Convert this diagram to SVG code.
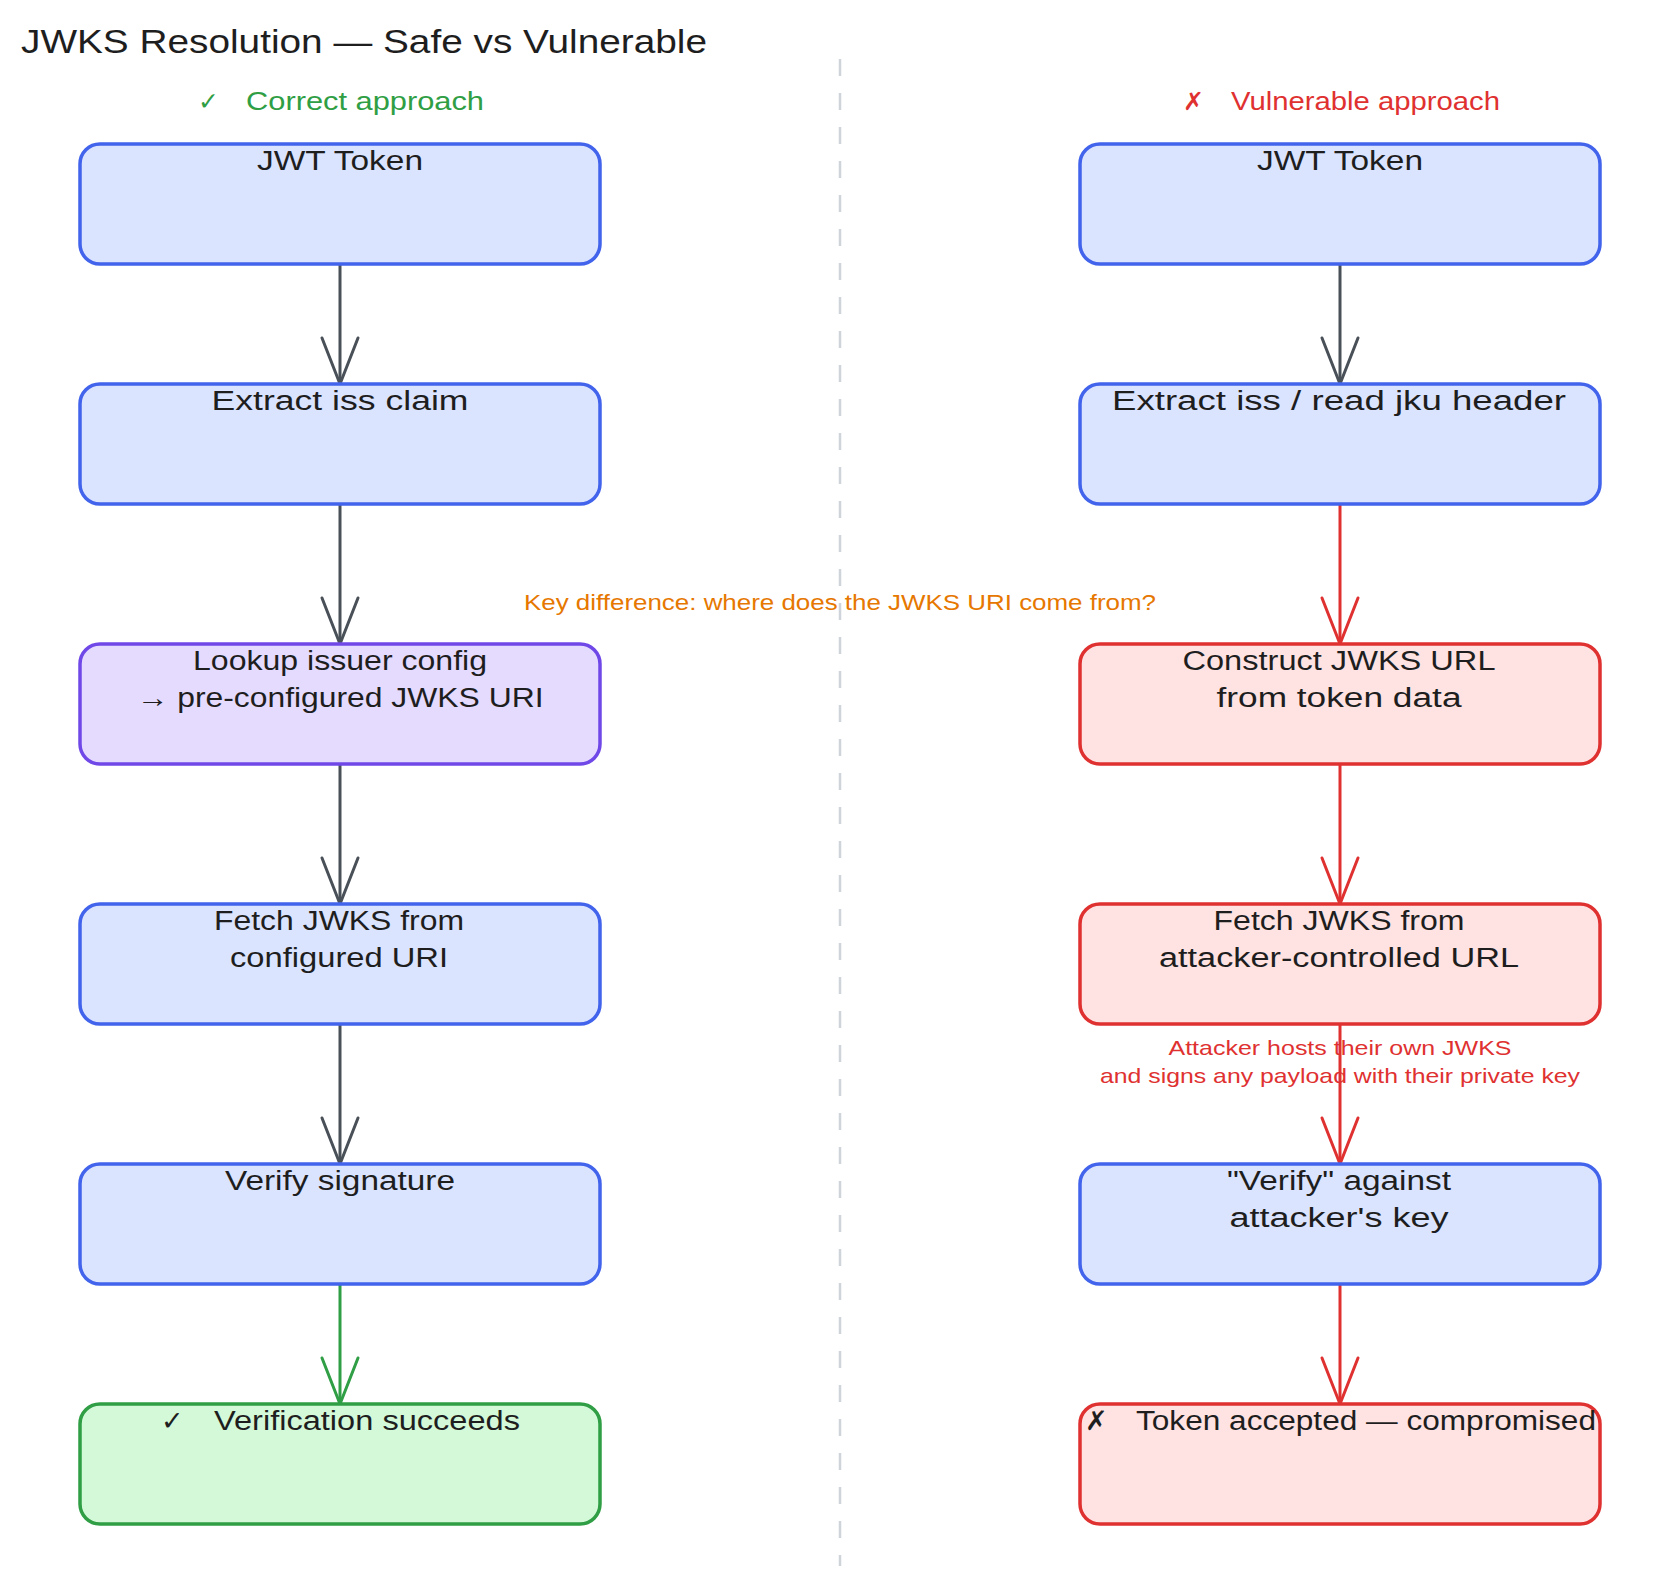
<svg xmlns="http://www.w3.org/2000/svg" width="1680" height="1584" viewBox="0 0 1680 1584">
<style>
text{font-family:"Liberation Sans","DejaVu Sans",sans-serif;fill:#1e1e1e}
.title{font-size:34px}
.head{font-size:25px}
.lbl{font-size:27px;text-anchor:middle}
.note{font-size:21px;text-anchor:middle}
.box{stroke-width:3.5}
.blue{fill:#dbe4ff;stroke:#4263eb}
.purple{fill:#e5dbff;stroke:#7048e8}
.red{fill:#ffe3e3;stroke:#e03131}
.green{fill:#d3f9d8;stroke:#2f9e44}
.c-gray{stroke:#495057;stroke-width:3;fill:none}
.c-red{stroke:#e03131;stroke-width:3;fill:none}
.c-green{stroke:#2f9e44;stroke-width:3;fill:none}
</style>
<defs>
<marker id="ah-gray" markerUnits="userSpaceOnUse" viewBox="-50 -25 55 50" refX="0" refY="0" markerWidth="55" markerHeight="50" orient="auto" overflow="visible"><path d="M-46,-18 L0,0 L-46,18" fill="none" stroke="#495057" stroke-width="3" stroke-linecap="round" stroke-linejoin="round"/></marker>
<marker id="ah-red" markerUnits="userSpaceOnUse" viewBox="-50 -25 55 50" refX="0" refY="0" markerWidth="55" markerHeight="50" orient="auto" overflow="visible"><path d="M-46,-18 L0,0 L-46,18" fill="none" stroke="#e03131" stroke-width="3" stroke-linecap="round" stroke-linejoin="round"/></marker>
<marker id="ah-green" markerUnits="userSpaceOnUse" viewBox="-50 -25 55 50" refX="0" refY="0" markerWidth="55" markerHeight="50" orient="auto" overflow="visible"><path d="M-46,-18 L0,0 L-46,18" fill="none" stroke="#2f9e44" stroke-width="3" stroke-linecap="round" stroke-linejoin="round"/></marker>
</defs>
<rect width="1680" height="1584" fill="#ffffff"/>

<text class="title" x="21" y="53" textLength="686" lengthAdjust="spacingAndGlyphs">JWKS Resolution — Safe vs Vulnerable</text>
<line x1="840" y1="59" x2="840" y2="1566" stroke="#ced4da" stroke-width="2.5" stroke-dasharray="17 17"/>

<text class="head" y="110" fill="#2f9e44" style="fill:#2f9e44"><tspan x="198">✓ </tspan><tspan x="246" textLength="238" lengthAdjust="spacingAndGlyphs">Correct approach</tspan></text>
<text class="head" y="110" style="fill:#e03131"><tspan x="1183">✗ </tspan><tspan x="1231" textLength="269" lengthAdjust="spacingAndGlyphs">Vulnerable approach</tspan></text>

<g id="connectors">
<line class="c-gray" x1="340" y1="264" x2="340" y2="384" marker-end="url(#ah-gray)"/>
<line class="c-gray" x1="340" y1="504" x2="340" y2="644" marker-end="url(#ah-gray)"/>
<line class="c-gray" x1="340" y1="764" x2="340" y2="904" marker-end="url(#ah-gray)"/>
<line class="c-gray" x1="340" y1="1024" x2="340" y2="1164" marker-end="url(#ah-gray)"/>
<line class="c-green" x1="340" y1="1284" x2="340" y2="1404" marker-end="url(#ah-green)"/>
<line class="c-gray" x1="1340" y1="264" x2="1340" y2="384" marker-end="url(#ah-gray)"/>
<line class="c-red" x1="1340" y1="504" x2="1340" y2="644" marker-end="url(#ah-red)"/>
<line class="c-red" x1="1340" y1="764" x2="1340" y2="904" marker-end="url(#ah-red)"/>
<line class="c-red" x1="1340" y1="1024" x2="1340" y2="1164" marker-end="url(#ah-red)"/>
<line class="c-red" x1="1340" y1="1284" x2="1340" y2="1404" marker-end="url(#ah-red)"/>
<text class="note" x="840" y="610" style="fill:#e67700;font-size:22px" textLength="632" lengthAdjust="spacingAndGlyphs">Key difference: where does the JWKS URI come from?</text>
<text class="note" x="1340" y="1055" style="fill:#e03131" textLength="343" lengthAdjust="spacingAndGlyphs">Attacker hosts their own JWKS</text>
<text class="note" x="1340" y="1083" style="fill:#e03131" textLength="480" lengthAdjust="spacingAndGlyphs">and signs any payload with their private key</text>
</g>

<g id="l1"><rect class="box blue" x="80" y="144" width="520" height="120" rx="20"/><text class="lbl" x="340" y="170" textLength="166" lengthAdjust="spacingAndGlyphs">JWT Token</text></g>
<g id="l2"><rect class="box blue" x="80" y="384" width="520" height="120" rx="20"/><text class="lbl" x="340" y="410" textLength="257" lengthAdjust="spacingAndGlyphs">Extract iss claim</text></g>
<g id="l3"><rect class="box purple" x="80" y="644" width="520" height="120" rx="20"/><text class="lbl" x="340" y="670" textLength="294" lengthAdjust="spacingAndGlyphs">Lookup issuer config</text><text class="lbl" x="340" y="707" textLength="407" lengthAdjust="spacingAndGlyphs">→ pre-configured JWKS URI</text></g>
<g id="l4"><rect class="box blue" x="80" y="904" width="520" height="120" rx="20"/><text class="lbl" x="339" y="930" textLength="250" lengthAdjust="spacingAndGlyphs">Fetch JWKS from</text><text class="lbl" x="339" y="967" textLength="218" lengthAdjust="spacingAndGlyphs">configured URI</text></g>
<g id="l5"><rect class="box blue" x="80" y="1164" width="520" height="120" rx="20"/><text class="lbl" x="340" y="1190" textLength="230" lengthAdjust="spacingAndGlyphs">Verify signature</text></g>
<g id="l6"><rect class="box green" x="80" y="1404" width="520" height="120" rx="20"/><text style="font-size:27px" y="1430"><tspan x="161">✓ </tspan><tspan x="214" textLength="306" lengthAdjust="spacingAndGlyphs">Verification succeeds</tspan></text></g>

<g id="r1"><rect class="box blue" x="1080" y="144" width="520" height="120" rx="20"/><text class="lbl" x="1340" y="170" textLength="166" lengthAdjust="spacingAndGlyphs">JWT Token</text></g>
<g id="r2"><rect class="box blue" x="1080" y="384" width="520" height="120" rx="20"/><text class="lbl" x="1339" y="410" textLength="454" lengthAdjust="spacingAndGlyphs">Extract iss / read jku header</text></g>
<g id="r3"><rect class="box red" x="1080" y="644" width="520" height="120" rx="20"/><text class="lbl" x="1339" y="670" textLength="313" lengthAdjust="spacingAndGlyphs">Construct JWKS URL</text><text class="lbl" x="1339" y="707" textLength="245" lengthAdjust="spacingAndGlyphs">from token data</text></g>
<g id="r4"><rect class="box red" x="1080" y="904" width="520" height="120" rx="20"/><text class="lbl" x="1339" y="930" textLength="251" lengthAdjust="spacingAndGlyphs">Fetch JWKS from</text><text class="lbl" x="1339" y="967" textLength="360" lengthAdjust="spacingAndGlyphs">attacker-controlled URL</text></g>
<g id="r5"><rect class="box blue" x="1080" y="1164" width="520" height="120" rx="20"/><text class="lbl" x="1339" y="1190" textLength="224" lengthAdjust="spacingAndGlyphs">"Verify" against</text><text class="lbl" x="1339" y="1227" textLength="219" lengthAdjust="spacingAndGlyphs">attacker's key</text></g>
<g id="r6"><rect class="box red" x="1080" y="1404" width="520" height="120" rx="20"/><text style="font-size:27px" y="1430"><tspan x="1085">✗ </tspan><tspan x="1136" textLength="460" lengthAdjust="spacingAndGlyphs">Token accepted — compromised</tspan></text></g>
</svg>
